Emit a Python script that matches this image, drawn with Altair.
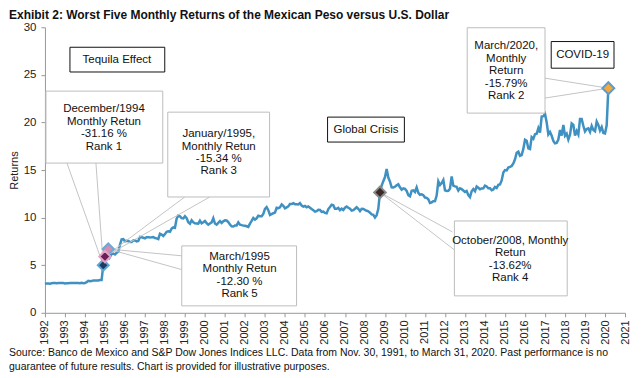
import altair as alt
import pandas as pd

# ---------------- data (USD/MXN, end of month) ----------------
r1992 = [3.06, 3.07, 3.07, 3.06, 3.10, 3.12, 3.12, 3.11, 3.12, 3.12, 3.12, 3.12]
r1993 = [3.09, 3.11, 3.10, 3.12, 3.12, 3.12, 3.12, 3.12, 3.12, 3.11, 3.15, 3.11]
r1994 = [3.12, 3.22, 3.36, 3.32, 3.33, 3.40, 3.39, 3.40, 3.40, 3.44, 3.44, 5.00]
r1995 = [5.91, 5.88, 6.70, 5.86, 6.17, 6.23, 6.13, 6.30, 6.42, 7.13, 7.72, 7.74]
r1996 = [7.52, 7.57, 7.55, 7.43, 7.43, 7.60, 7.62, 7.50, 7.54, 7.97, 7.93, 7.88]
r1997 = [7.83, 7.94, 7.95, 7.92, 7.93, 7.95, 7.86, 7.82, 7.75, 8.31, 8.22, 8.07]
r1998 = [8.27, 8.52, 8.57, 8.52, 8.85, 8.97, 8.94, 9.88, 10.21, 10.13, 9.94, 9.91]
r1999 = [10.15, 9.95, 9.51, 9.35, 9.72, 9.50, 9.40, 9.39, 9.36, 9.67, 9.40, 9.51]
r2000 = [9.65, 9.43, 9.26, 9.38, 9.50, 9.94, 9.38, 9.26, 9.45, 9.63, 9.44, 9.61]
r2001 = [9.71, 9.70, 9.53, 9.28, 9.09, 9.07, 9.17, 9.18, 9.51, 9.26, 9.21, 9.16]
r2002 = [9.14, 9.09, 9.03, 9.37, 9.65, 9.96, 9.79, 9.93, 10.20, 10.15, 10.15, 10.39]
r2003 = [10.92, 11.11, 10.78, 10.28, 10.37, 10.46, 10.53, 11.03, 10.99, 11.08, 11.39, 11.23]
r2004 = [10.97, 11.08, 11.18, 11.44, 11.43, 11.51, 11.41, 11.40, 11.38, 11.52, 11.26, 11.15]
r2005 = [11.22, 11.08, 11.17, 11.04, 10.90, 10.78, 10.62, 10.67, 10.82, 10.80, 10.61, 10.63]
r2006 = [10.49, 10.45, 10.90, 11.12, 11.36, 11.29, 10.92, 10.92, 11.03, 10.78, 10.94, 10.80]
r2007 = [11.04, 11.16, 11.04, 10.94, 10.74, 10.79, 10.93, 11.09, 10.93, 10.68, 10.93, 10.91]
r2008 = [10.81, 10.72, 10.66, 10.52, 10.34, 10.30, 10.01, 10.26, 10.93, 12.65, 13.36, 13.83]
r2009 = [14.26, 15.11, 14.21, 13.78, 13.18, 13.17, 13.24, 13.40, 13.50, 13.19, 12.94, 13.07]
r2010 = [13.02, 12.81, 12.36, 12.24, 12.82, 12.87, 12.70, 13.17, 12.61, 12.40, 12.45, 12.35]
r2011 = [12.11, 12.08, 11.92, 11.54, 11.60, 11.72, 11.74, 12.32, 13.81, 13.43, 13.63, 13.95]
r2012 = [12.87, 12.80, 12.81, 13.04, 14.33, 13.36, 13.28, 13.23, 12.85, 13.08, 12.99, 12.85]
r2013 = [12.70, 12.79, 12.36, 12.15, 12.77, 13.00, 12.78, 13.27, 13.14, 12.98, 13.07, 13.08]
r2014 = [13.37, 13.28, 13.08, 13.08, 12.87, 12.96, 13.23, 13.11, 13.44, 13.48, 13.90, 14.75]
r2015 = [14.99, 14.96, 15.26, 15.33, 15.42, 15.70, 16.13, 16.82, 16.93, 16.50, 16.57, 17.22]
r2016 = [18.19, 18.08, 17.27, 17.20, 18.45, 18.28, 18.76, 18.81, 19.40, 18.93, 20.62, 20.66]
r2017 = [20.90, 20.00, 18.75, 19.00, 18.60, 18.06, 17.80, 17.85, 18.20, 19.20, 18.62, 19.75]
r2018 = [18.60, 18.82, 18.20, 18.70, 19.90, 19.75, 18.62, 19.10, 18.73, 20.35, 20.35, 19.65]
r2019 = [19.05, 19.30, 19.38, 19.00, 19.63, 19.20, 19.07, 20.10, 19.73, 19.15, 19.52, 18.90]
r2020 = [18.85, 19.70, 23.60]

yearly = [r1992, r1993, r1994, r1995, r1996, r1997, r1998, r1999, r2000, r2001,
          r2002, r2003, r2004, r2005, r2006, r2007, r2008, r2009, r2010, r2011,
          r2012, r2013, r2014, r2015, r2016, r2017, r2018, r2019, r2020]

# worst five monthly returns (year, month index 0-11), drawing order
event_names = ["Dec 1994", "Mar 1995", "Jan 1995", "Oct 2008", "Mar 2020"]
event_year = [1994, 1995, 1995, 2008, 2020]
event_month = [11, 2, 0, 9, 2]

year_ticks = list(range(1992, 2022))
y_ticks = [0, 5, 10, 15, 20, 25, 30]

# ---------------- tables ----------------
rows = []
for i, vals in enumerate(yearly):
    for m, v in enumerate(vals):
        rows.append({"t": 1992 + i + m / 12, "v": v})
df = pd.DataFrame(rows)

ev = pd.DataFrame({
    "event": event_names,
    "t": [y + m / 12 for y, m in zip(event_year, event_month)],
    "v": [yearly[y - 1992][m] for y, m in zip(event_year, event_month)],
})
ev["order"] = range(len(ev))

FONT = "Liberation Sans"
XS = alt.Scale(domain=[1992, 2021], nice=False, zero=False)
YS = alt.Scale(domain=[0, 30], nice=False)
AX = alt.Axis(values=year_ticks, format="d", labelAngle=-90, grid=False, title=None,
              labelFont=FONT, labelFontSize=11, labelColor="#222", tickSize=4,
              tickColor="#999", domainColor="#999", labelPadding=3,
              labelOverlap=False, labelFlush=False)
AY = alt.Axis(values=y_ticks, grid=False, title="Returns", titleFont=FONT,
              titleFontSize=11, titleFontWeight="normal", titleColor="#222",
              labelFont=FONT, labelFontSize=11.5, labelColor="#222", tickSize=4,
              tickColor="#999", domainColor="#999", labelPadding=5, titlePadding=4,
              labelFlush=False)


def X(f):
    return alt.X(f, scale=XS, axis=AX)


def Y(f):
    return alt.Y(f, scale=YS, axis=AY)


line = alt.Chart(df).mark_line(color="#3F91C2", strokeWidth=2.5).encode(
    x=X("t:Q"), y=Y("v:Q"))

# annotation geometry in data units
boxes = pd.DataFrame({
    "t": [1993.25, 1992.05, 1998.14, 1998.84, 2006.13, 2012.47, 2013.11, 2017.31],
    "t2": [1997.99, 1997.89, 2003.23, 2004.58, 2009.97, 2018.11, 2017.00, 2020.45],
    "v": [27.9, 23.29, 21.08, 7.03, 20.56, 9.65, 29.95, 28.5],
    "v2": [25.3, 15.73, 12.17, 0.73, 17.94, 1.78, 20.98, 25.7],
    "kind": ["label", "call", "call", "call", "label", "call", "call", "label"],
})
# y = position of the first text line
texts = pd.DataFrame({
    "t": [1995.6, 1994.95, 2000.69, 2001.73, 2008.05, 2015.26, 2015.06, 2018.88],
    "v": [26.6, 21.40, 18.78, 5.87, 19.25, 7.55, 28.01, 27.1],
    "text": ["Tequila Effect",
             "December/1994\nMonthly Retun\n-31.16 %\nRank 1",
             "January/1995,\nMonthly Retun\n-15.34 %\nRank 3",
             "March/1995\nMonthly Retun\n-12.30 %\nRank 5",
             "Global Crisis",
             "October/2008, Monthly\nRetun\n-13.62%\nRank 4",
             "March/2020,\nMonthly\nReturn\n-15.79%\nRank 2",
             "COVID-19"],
})
lead_from_x = [1993.10, 1994.55, 1998.99, 2000.24, 1998.89, 1998.89, 2012.37, 2012.47, 2017.0, 2016.96]
lead_from_y = [15.73, 15.73, 12.17, 12.17, 5.98, 4.51, 8.50, 6.61, 24.65, 22.55]
lead_event = ["Dec 1994", "Dec 1994", "Jan 1995", "Jan 1995", "Mar 1995", "Mar 1995",
              "Oct 2008", "Oct 2008", "Mar 2020", "Mar 2020"]
ev_map = dict(zip(ev["event"], zip(ev["t"], ev["v"])))
leads = pd.DataFrame({
    "t": lead_from_x, "v": lead_from_y,
    "t2": [ev_map[e][0] for e in lead_event],
    "v2": [ev_map[e][1] for e in lead_event],
})

leaders = alt.Chart(leads).mark_rule(color="#C4C4C4", strokeWidth=1).encode(
    x=X("t:Q"), x2="t2:Q", y=Y("v:Q"), y2="v2:Q")

rects = alt.Chart(boxes).mark_rect(fill="white", strokeWidth=1).encode(
    x=X("t:Q"), x2="t2:Q", y=Y("v:Q"), y2="v2:Q",
    stroke=alt.Stroke("kind:N", scale=alt.Scale(domain=["label", "call"],
                                                range=["#111111", "#BDBDBD"]), legend=None))

labels = alt.Chart(texts).mark_text(font=FONT, fontSize=11.5, color="#111",
                                    lineBreak="\n", lineHeight=12.5,
                                    align="center", baseline="middle").encode(
    x=X("t:Q"), y=Y("v:Q"), text="text:N")

markers = alt.Chart(ev).mark_point(shape="diamond", filled=True, opacity=1,
                                   strokeWidth=2).encode(
    x=X("t:Q"), y=Y("v:Q"),
    fill=alt.Fill("event:N", scale=alt.Scale(domain=event_names, range=[
        "#1F3A66", "#D88CB0", "#6E1E5A", "#3A2A28", "#F2AA3C"]), legend=None),
    stroke=alt.Stroke("event:N", scale=alt.Scale(domain=event_names, range=[
        "#5EA6D2", "#6FA8D6", "#E2A6C6", "#8A8A8A", "#5B9BD5"]), legend=None),
    size=alt.Size("event:N", scale=alt.Scale(domain=event_names,
                                             range=[120, 140, 40, 100, 130]), legend=None),
    order=alt.Order("order:Q"))

source = alt.Chart(pd.DataFrame({"s": [
    "Source: Banco de Mexico and S&P Dow Jones Indices LLC. Data from Nov. 30, 1991, to March 31, 2020. "
    "Past performance is no\nguarantee of future results. Chart is provided for illustrative purposes."]})
).mark_text(font=FONT, fontSize=10.5, color="#111", align="left", baseline="middle",
            lineBreak="\n", lineHeight=14).encode(
    x=alt.value(-36), y=alt.value(326), text="s:N")

chart = alt.layer(line, leaders, markers, rects, labels, source).properties(
    width=581, height=286,
    padding={"left": 37, "top": 19, "right": 10, "bottom": 62},
    autosize=alt.AutoSizeParams(type="none"),
    title=alt.TitleParams(
        "Exhibit 2: Worst Five Monthly Returns of the Mexican Peso versus U.S. Dollar",
        anchor="start", frame="group", dx=-36, dy=5, offset=4, font=FONT,
        fontSize=12, fontWeight="bold", color="#111"),
).configure_view(stroke=None).resolve_scale(fill="independent", stroke="independent")

chart.save("out.html", embed_options={"renderer": "svg", "actions": False})
